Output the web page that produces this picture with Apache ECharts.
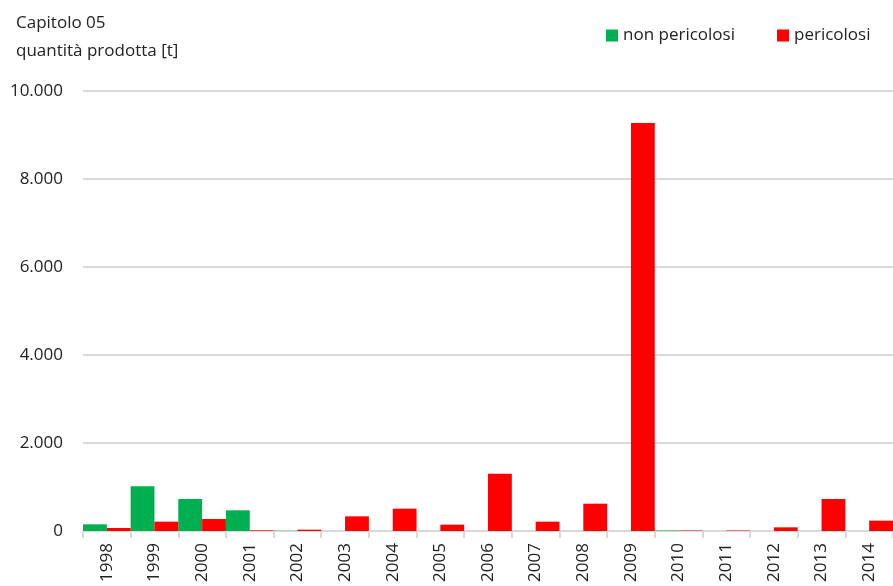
<!DOCTYPE html>
<html><head><meta charset="utf-8">
<script src="https://cdn.jsdelivr.net/npm/echarts@6/dist/echarts.min.js"></script>
<style>html,body{margin:0;padding:0;background:#fff}#c{width:893px;height:586px}</style>
</head><body><div id="c"></div>
<script>
const years = ['1998','1999','2000','2001','2002','2003','2004','2005','2006','2007','2008','2009','2010','2011','2012','2013','2014'];
const nonPericolosi = [152,1015,727,470,5,0,0,0,0,0,0,0,10,0,0,0,0];
const pericolosi = [68,212,273,15,30,333,508,144,1303,212,621,9273,10,10,83,727,235];
const yTicks = [0,2000,4000,6000,8000,10000];

const fmt = v => String(v).replace(/\B(?=(\d{3})+(?!\d))/g,'.');
const FONT = '"Open Sans", sans-serif';
const legText = {fontFamily:FONT,fontSize:17,color:'#222'};
const chart = echarts.init(document.getElementById('c'));
chart.setOption({
  animation:false,
  title:{text:'Capitolo 05\nquantità prodotta [t]',left:11,top:4,
    textStyle:{fontFamily:FONT,fontSize:17,fontWeight:'normal',color:'#222',lineHeight:28}},
  legend:[
    {left:601,top:22,itemWidth:12,itemHeight:12,icon:'rect',textStyle:legText,data:['non pericolosi']},
    {left:772,top:22,itemWidth:12,itemHeight:12,icon:'rect',textStyle:legText,data:['pericolosi']}
  ],
  grid:{left:83,right:-11,top:91,bottom:55},
  xAxis:{type:'category',data:years,
    axisLine:{lineStyle:{color:'#d9d9d9',width:2}},
    axisTick:{show:true,length:7,lineStyle:{color:'#d9d9d9',width:2}},
    axisLabel:{rotate:90,margin:12,fontFamily:FONT,fontSize:17,color:'#222'}},
  yAxis:{type:'value',min:yTicks[0],max:yTicks[yTicks.length-1],interval:2000,
    axisLine:{show:false},axisTick:{show:false},
    splitLine:{lineStyle:{color:'#d9d9d9',width:2}},
    axisLabel:{margin:20,fontFamily:FONT,fontSize:17,color:'#222',formatter:v=>fmt(v)}},
  series:[
    {name:'non pericolosi',type:'bar',data:nonPericolosi,barGap:'0%',barCategoryGap:'0%',
      itemStyle:{color:'#00b050'}},
    {name:'pericolosi',type:'bar',data:pericolosi,barGap:'0%',barCategoryGap:'0%',
      itemStyle:{color:'#ff0000'}}
  ]
});
</script></body></html>
